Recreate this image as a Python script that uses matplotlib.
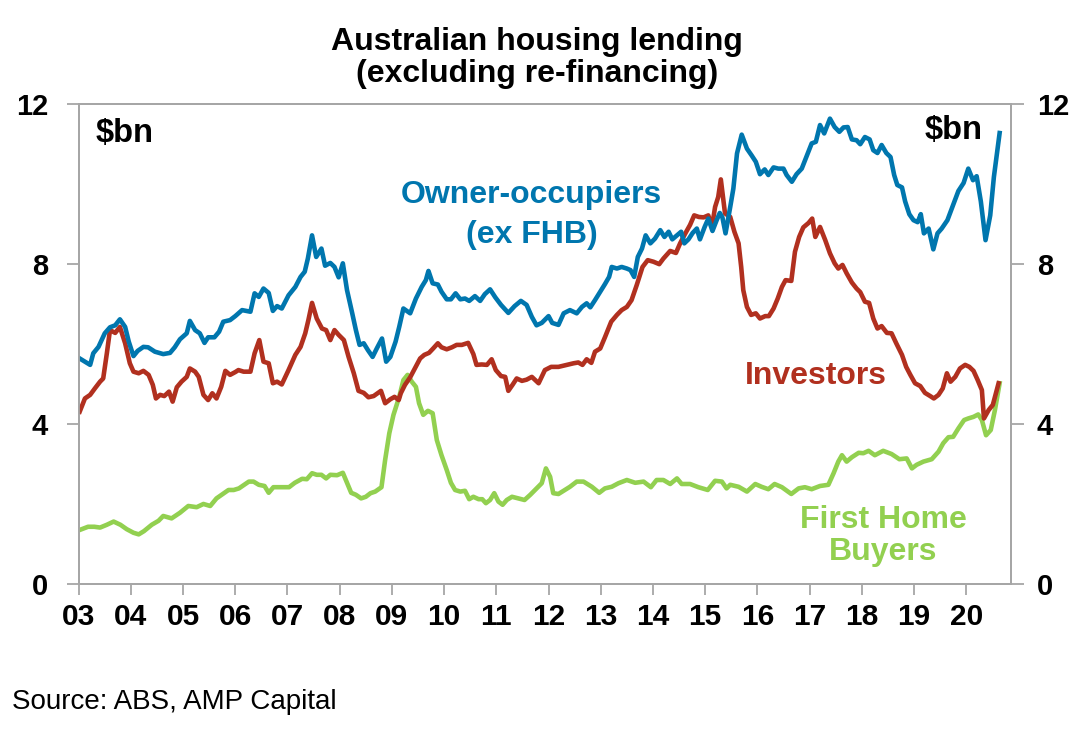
import matplotlib
matplotlib.use("Agg")
import matplotlib.pyplot as plt
from matplotlib.ticker import FixedLocator

plt.rcParams['font.family'] = ['Liberation Sans', 'DejaVu Sans']

# ---- data (decimal year, $bn) ----
owner_dates = [2003.02, 2003.22, 2003.28, 2003.38, 2003.50, 2003.60, 2003.70, 2003.79, 2003.89, 2003.96,
               2004.05, 2004.13, 2004.24, 2004.33, 2004.46, 2004.62, 2004.75, 2004.84, 2004.94,
               2005.07, 2005.13, 2005.23, 2005.32, 2005.41, 2005.48, 2005.60, 2005.69, 2005.77, 2005.90,
               2006.00, 2006.13, 2006.29, 2006.37, 2006.45, 2006.54, 2006.64, 2006.72, 2006.80, 2006.89,
               2007.02, 2007.15, 2007.25, 2007.33, 2007.39, 2007.47, 2007.55, 2007.65, 2007.72, 2007.82, 2007.90, 2007.98,
               2008.06, 2008.14, 2008.24, 2008.31, 2008.38, 2008.46, 2008.54, 2008.63, 2008.71, 2008.81, 2008.89, 2008.97,
               2009.07, 2009.14, 2009.22, 2009.35, 2009.46, 2009.57, 2009.65, 2009.70, 2009.78, 2009.88, 2009.95,
               2010.05, 2010.13, 2010.22, 2010.31, 2010.40, 2010.48, 2010.59, 2010.69, 2010.78, 2010.88, 2010.98,
               2011.09, 2011.23, 2011.35, 2011.47, 2011.58, 2011.68, 2011.77, 2011.87,
               2012.00, 2012.07, 2012.19, 2012.29, 2012.41, 2012.54, 2012.64, 2012.73, 2012.80, 2012.89, 2012.99,
               2013.08, 2013.16, 2013.21, 2013.31, 2013.40, 2013.50, 2013.57, 2013.64, 2013.71, 2013.79, 2013.86, 2013.95,
               2014.04, 2014.14, 2014.22, 2014.30, 2014.37, 2014.46, 2014.54, 2014.60, 2014.68, 2014.76, 2014.84, 2014.90, 2014.99,
               2015.06, 2015.14, 2015.22, 2015.28, 2015.33, 2015.39, 2015.48, 2015.54, 2015.61, 2015.70, 2015.80, 2015.89, 2015.97,
               2016.05, 2016.14, 2016.21, 2016.31, 2016.40, 2016.50, 2016.56, 2016.66, 2016.75, 2016.85, 2016.95,
               2017.04, 2017.12, 2017.20, 2017.28, 2017.39, 2017.48, 2017.57, 2017.65, 2017.73, 2017.81, 2017.90, 2017.97,
               2018.06, 2018.15, 2018.22, 2018.30, 2018.38, 2018.47, 2018.55, 2018.62, 2018.68, 2018.77, 2018.83, 2018.91, 2018.99,
               2019.07, 2019.13, 2019.19, 2019.28, 2019.37, 2019.45, 2019.53, 2019.64, 2019.74, 2019.85, 2019.95,
               2020.04, 2020.13, 2020.20, 2020.28, 2020.37, 2020.46, 2020.53, 2020.64]
owner_vals = [5.64, 5.48, 5.77, 5.93, 6.27, 6.42, 6.47, 6.62, 6.43, 6.06,
              5.70, 5.83, 5.93, 5.92, 5.81, 5.75, 5.78, 5.92, 6.12,
              6.27, 6.58, 6.35, 6.27, 6.03, 6.17, 6.17, 6.31, 6.56, 6.60,
              6.70, 6.85, 6.81, 7.27, 7.18, 7.39, 7.28, 6.83, 6.95, 6.89,
              7.22, 7.43, 7.68, 7.81, 8.14, 8.72, 8.18, 8.39, 7.96, 8.03, 7.93, 7.67,
              8.02, 7.35, 6.77, 6.35, 5.98, 6.02, 5.85, 5.68, 5.89, 6.14, 5.56, 5.68,
              6.06, 6.43, 6.89, 6.77, 7.14, 7.43, 7.60, 7.83, 7.52, 7.49, 7.31,
              7.12, 7.12, 7.27, 7.12, 7.14, 7.08, 7.20, 7.08, 7.25, 7.37, 7.17,
              6.98, 6.78, 6.95, 7.08, 6.98, 6.68, 6.47, 6.53,
              6.70, 6.53, 6.48, 6.77, 6.85, 6.77, 6.93, 7.02, 6.92, 7.10, 7.31,
              7.50, 7.68, 7.93, 7.89, 7.93, 7.89, 7.85, 7.68, 8.18, 8.39, 8.72, 8.52,
              8.64, 8.85, 8.68, 8.81, 8.62, 8.72, 8.81, 8.52, 8.62, 8.78, 8.89, 8.62, 8.93,
              9.14, 8.83, 9.10, 9.28, 9.17, 8.77, 9.43, 9.89, 10.77, 11.24, 10.89, 10.72, 10.56,
              10.25, 10.37, 10.23, 10.42, 10.39, 10.39, 10.23, 10.06, 10.25, 10.39, 10.72,
              11.02, 11.06, 11.48, 11.27, 11.64, 11.43, 11.31, 11.42, 11.43, 11.12, 11.10, 11.00,
              11.18, 11.12, 10.85, 10.78, 10.98, 10.78, 10.68, 10.23, 9.98, 9.92, 9.57, 9.25, 9.10,
              9.05, 9.25, 8.77, 8.89, 8.37, 8.77, 8.89, 9.10, 9.45, 9.83, 10.03,
              10.39, 10.10, 10.20, 9.57, 8.60, 9.22, 10.18, 11.28]

investor_dates = [2003.02, 2003.12, 2003.22, 2003.31, 2003.41, 2003.47, 2003.54, 2003.60, 2003.70, 2003.79, 2003.89, 2003.98,
                  2004.05, 2004.15, 2004.24, 2004.34, 2004.42, 2004.48, 2004.56, 2004.64, 2004.73, 2004.80, 2004.88, 2004.97,
                  2005.07, 2005.13, 2005.23, 2005.30, 2005.39, 2005.48, 2005.56, 2005.64, 2005.73, 2005.81, 2005.90,
                  2006.00, 2006.06, 2006.16, 2006.29, 2006.37, 2006.46, 2006.54, 2006.64, 2006.72, 2006.80, 2006.89,
                  2007.02, 2007.15, 2007.25, 2007.34, 2007.40, 2007.47, 2007.56, 2007.66, 2007.74, 2007.82, 2007.90, 2007.98,
                  2008.08, 2008.17, 2008.27, 2008.36, 2008.46, 2008.55, 2008.65, 2008.79, 2008.87, 2008.97,
                  2009.05, 2009.13, 2009.17, 2009.25, 2009.35, 2009.44, 2009.54, 2009.62, 2009.71, 2009.79, 2009.88, 2009.95,
                  2010.05, 2010.15, 2010.24, 2010.34, 2010.46, 2010.56, 2010.62, 2010.72, 2010.82, 2010.91, 2010.99,
                  2011.09, 2011.17, 2011.23, 2011.31, 2011.39, 2011.49, 2011.58, 2011.68, 2011.81, 2011.93,
                  2012.05, 2012.19, 2012.35, 2012.48, 2012.57, 2012.65, 2012.73, 2012.82, 2012.89, 2012.99,
                  2013.08, 2013.20, 2013.31, 2013.40, 2013.50, 2013.59, 2013.69, 2013.80, 2013.90,
                  2014.01, 2014.12, 2014.20, 2014.33, 2014.44, 2014.52, 2014.62, 2014.71, 2014.79, 2014.88, 2014.97,
                  2015.06, 2015.13, 2015.19, 2015.25, 2015.30, 2015.38, 2015.48, 2015.56, 2015.64, 2015.69, 2015.73, 2015.80, 2015.88, 2015.97,
                  2016.05, 2016.15, 2016.22, 2016.31, 2016.39, 2016.47, 2016.54, 2016.65, 2016.72, 2016.80, 2016.88, 2016.98,
                  2017.05, 2017.11, 2017.20, 2017.30, 2017.39, 2017.48, 2017.55, 2017.63, 2017.71, 2017.81, 2017.90, 2017.97,
                  2018.06, 2018.14, 2018.22, 2018.30, 2018.38, 2018.48, 2018.57, 2018.66, 2018.77, 2018.85, 2018.93,
                  2019.02, 2019.12, 2019.21, 2019.31, 2019.38, 2019.47, 2019.55, 2019.63, 2019.70, 2019.79, 2019.88, 2019.98,
                  2020.06, 2020.14, 2020.22, 2020.30, 2020.34, 2020.43, 2020.51, 2020.62]
investor_vals = [4.31, 4.64, 4.73, 4.89, 5.06, 5.14, 5.77, 6.35, 6.28, 6.43, 6.02, 5.52,
                 5.31, 5.27, 5.33, 5.23, 4.98, 4.64, 4.73, 4.70, 4.81, 4.56, 4.92, 5.06,
                 5.18, 5.39, 5.31, 5.18, 4.73, 4.60, 4.77, 4.64, 4.93, 5.33, 5.23,
                 5.30, 5.35, 5.31, 5.31, 5.77, 6.10, 5.56, 5.52, 5.02, 5.06, 4.99,
                 5.35, 5.73, 5.93, 6.27, 6.60, 7.03, 6.64, 6.39, 6.35, 6.10, 6.35, 6.23,
                 6.10, 5.68, 5.27, 4.83, 4.78, 4.67, 4.70, 4.83, 4.52, 4.62,
                 4.68, 4.60, 4.77, 4.98, 5.17, 5.39, 5.64, 5.73, 5.78, 5.89, 6.02, 5.92,
                 5.87, 5.92, 5.98, 5.98, 6.03, 5.75, 5.48, 5.49, 5.48, 5.62, 5.35,
                 5.20, 5.18, 4.83, 4.98, 5.14, 5.08, 5.11, 5.18, 5.02, 5.35,
                 5.43, 5.43, 5.48, 5.52, 5.54, 5.48, 5.62, 5.53, 5.81, 5.89,
                 6.17, 6.56, 6.73, 6.85, 6.93, 7.10, 7.48, 7.93, 8.10,
                 8.06, 8.00, 8.14, 8.33, 8.28, 8.52, 8.77, 8.98, 9.22, 9.18, 9.17,
                 9.22, 8.93, 9.43, 9.68, 10.12, 9.27, 9.18, 8.81, 8.52, 7.93, 7.35, 6.93, 6.73, 6.77,
                 6.64, 6.70, 6.70, 6.89, 7.14, 7.43, 7.60, 7.58, 8.31, 8.68, 8.92, 9.03,
                 9.14, 8.68, 8.93, 8.60, 8.27, 8.02, 7.89, 7.98, 7.77, 7.54, 7.39, 7.30,
                 7.06, 7.03, 6.64, 6.39, 6.45, 6.28, 6.27, 6.02, 5.73, 5.43, 5.23,
                 5.02, 4.95, 4.78, 4.70, 4.64, 4.73, 4.89, 5.27, 5.06, 5.18, 5.39, 5.48,
                 5.43, 5.33, 5.10, 4.85, 4.14, 4.35, 4.48, 5.02]

fhb_dates = [2003.02, 2003.18, 2003.30, 2003.41, 2003.54, 2003.67, 2003.80, 2003.92,
             2004.05, 2004.15, 2004.25, 2004.40, 2004.53, 2004.62, 2004.78, 2004.94,
             2005.10, 2005.26, 2005.39, 2005.52, 2005.64, 2005.74, 2005.87, 2005.97,
             2006.07, 2006.26, 2006.35, 2006.45, 2006.56, 2006.64, 2006.73, 2006.89,
             2007.03, 2007.14, 2007.28, 2007.37, 2007.47, 2007.56, 2007.65, 2007.74, 2007.82, 2007.95,
             2008.06, 2008.14, 2008.22, 2008.31, 2008.41, 2008.50, 2008.59, 2008.68, 2008.80, 2008.87, 2008.95,
             2009.03, 2009.14, 2009.22, 2009.30, 2009.38, 2009.46, 2009.52, 2009.60, 2009.69, 2009.78, 2009.86, 2009.95,
             2010.05, 2010.13, 2010.21, 2010.31, 2010.40, 2010.48, 2010.56, 2010.66, 2010.73, 2010.80, 2010.88, 2010.96,
             2011.04, 2011.12, 2011.20, 2011.30, 2011.42, 2011.54, 2011.65, 2011.77, 2011.87, 2011.95,
             2012.03, 2012.09, 2012.19, 2012.41, 2012.54, 2012.67, 2012.83, 2012.97,
             2013.08, 2013.21, 2013.34, 2013.50, 2013.66, 2013.82, 2013.96,
             2014.07, 2014.20, 2014.33, 2014.46, 2014.55, 2014.71, 2014.87,
             2015.05, 2015.19, 2015.32, 2015.41, 2015.48, 2015.64, 2015.80, 2015.96,
             2016.08, 2016.21, 2016.33, 2016.47, 2016.65, 2016.79, 2016.91,
             2017.04, 2017.20, 2017.36, 2017.46, 2017.55, 2017.62, 2017.71, 2017.81, 2017.94,
             2018.03, 2018.13, 2018.25, 2018.41, 2018.57, 2018.72, 2018.86, 2018.96,
             2019.05, 2019.18, 2019.34, 2019.47, 2019.56, 2019.66, 2019.75, 2019.85, 2019.96,
             2020.04, 2020.14, 2020.23, 2020.30, 2020.38, 2020.47, 2020.55, 2020.64]
fhb_vals = [1.35, 1.43, 1.43, 1.41, 1.48, 1.56, 1.48, 1.37,
            1.28, 1.24, 1.32, 1.48, 1.58, 1.70, 1.64, 1.78,
            1.95, 1.92, 2.00, 1.95, 2.14, 2.23, 2.35, 2.35,
            2.39, 2.56, 2.56, 2.48, 2.45, 2.28, 2.42, 2.42,
            2.42, 2.53, 2.63, 2.62, 2.77, 2.73, 2.73, 2.64, 2.73, 2.72,
            2.78, 2.53, 2.28, 2.23, 2.14, 2.18, 2.27, 2.31, 2.42, 3.10, 3.77,
            4.23, 4.68, 5.10, 5.23, 5.06, 4.93, 4.52, 4.23, 4.33, 4.27, 3.60, 3.22,
            2.85, 2.53, 2.35, 2.31, 2.33, 2.12, 2.18, 2.12, 2.12, 2.02, 2.10, 2.27,
            2.06, 1.98, 2.10, 2.18, 2.14, 2.10, 2.23, 2.39, 2.52, 2.89,
            2.68, 2.27, 2.25, 2.43, 2.56, 2.56, 2.43, 2.28,
            2.39, 2.43, 2.52, 2.60, 2.53, 2.56, 2.42,
            2.60, 2.60, 2.50, 2.64, 2.50, 2.50, 2.42,
            2.35, 2.58, 2.56, 2.39, 2.48, 2.43, 2.31, 2.50,
            2.43, 2.37, 2.50, 2.42, 2.25, 2.39, 2.42,
            2.37, 2.45, 2.48, 2.77, 3.06, 3.22, 3.06, 3.17, 3.28,
            3.27, 3.33, 3.22, 3.33, 3.25, 3.12, 3.14, 2.89,
            2.98, 3.06, 3.12, 3.31, 3.52, 3.67, 3.68, 3.89, 4.10,
            4.14, 4.18, 4.24, 4.10, 3.72, 3.85, 4.35, 5.02]

year_ticks = list(range(2003, 2021))
year_labels = [f"{y % 100:02d}" for y in year_ticks]
y_ticks = [0, 4, 8, 12]

BLUE = '#0076AE'
RED = '#B1301F'
GREEN = '#92D050'
GRAY = '#A6A6A6'

fig = plt.figure(figsize=(10.82, 7.29), dpi=100)
ax = fig.add_axes([0.0727, 0.199, 0.8613, 0.658])

ax.plot(fhb_dates, fhb_vals, color=GREEN, lw=3.3, solid_joinstyle='round', zorder=3)
ax.plot(investor_dates, investor_vals, color=RED, lw=3.3, solid_joinstyle='round', zorder=4)
ax.plot(owner_dates, owner_vals, color=BLUE, lw=3.3, solid_joinstyle='round', zorder=5)

ax.set_xlim(2003.0, 2020.85)
ax.set_ylim(0, 12)
ax.xaxis.set_major_locator(FixedLocator(year_ticks))
ax.set_xticklabels(year_labels)
ax.yaxis.set_major_locator(FixedLocator(y_ticks))

for s in ax.spines.values():
    s.set_color(GRAY)
    s.set_linewidth(1.3)

ax.tick_params(axis='x', direction='out', length=8, width=1.3, color=GRAY, pad=6,
               labelsize=21.5)
ax.tick_params(axis='y', direction='out', length=9, width=1.3, color=GRAY, pad=13,
               labelsize=21)
for lab in ax.get_xticklabels() + ax.get_yticklabels():
    lab.set_fontweight('bold')

ax2 = ax.twinx()
ax2.set_ylim(0, 12)
ax2.yaxis.set_major_locator(FixedLocator(y_ticks))
ax2.tick_params(axis='y', direction='out', length=9, width=1.3, color=GRAY, pad=10,
                labelsize=21)
for lab in ax2.get_yticklabels():
    lab.set_fontweight('bold')
for s in ax2.spines.values():
    s.set_color(GRAY)
    s.set_linewidth(1.3)

# unit labels
ax.text(2003.33, 11.27, '$bn', fontsize=23.5, fontweight='bold', ha='left', va='center', zorder=6)
ax.text(2020.31, 11.35, '$bn', fontsize=23.5, fontweight='bold', ha='right', va='center', zorder=6)

# series labels
ax.text(2011.68, 9.73, 'Owner-occupiers', color=BLUE, fontsize=23, fontweight='bold',
        ha='center', va='center', zorder=6)
ax.text(2011.68, 8.73, '(ex FHB)', color=BLUE, fontsize=23, fontweight='bold',
        ha='center', va='center', zorder=6)
ax.text(2017.12, 5.2, 'Investors', color=RED, fontsize=23, fontweight='bold',
        ha='center', va='center', zorder=6)
ax.text(2018.41, 1.6, 'First Home', color=GREEN, fontsize=23, fontweight='bold',
        ha='center', va='center', zorder=6)
ax.text(2018.41, 0.8, 'Buyers', color=GREEN, fontsize=23, fontweight='bold',
        ha='center', va='center', zorder=6)

# title
fig.text(0.496, 0.9314, 'Australian housing lending', fontsize=23, fontweight='bold',
         ha='center', va='baseline')
fig.text(0.496, 0.8875, '(excluding re-financing)', fontsize=23, fontweight='bold',
         ha='center', va='baseline')

fig.text(0.011, 0.0274, 'Source: ABS, AMP Capital', fontsize=20, ha='left', va='baseline')

fig.savefig('out.png', dpi=100)
